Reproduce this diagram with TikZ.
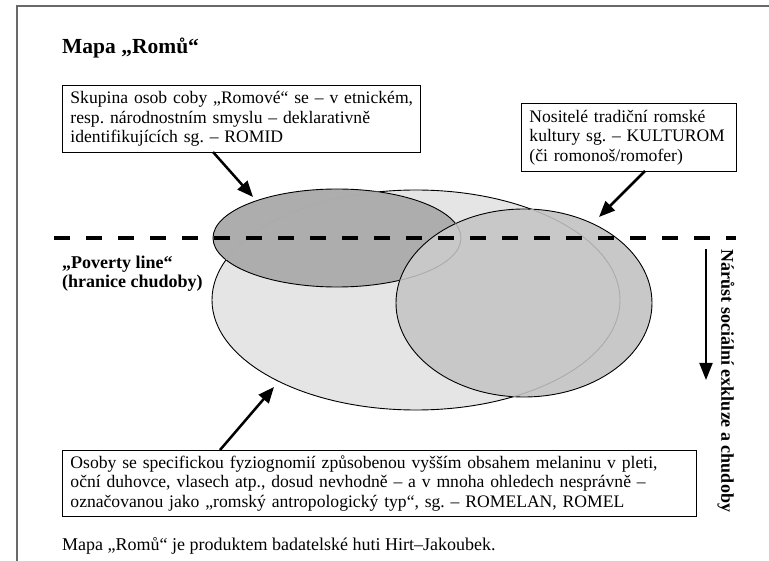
\documentclass[tikz,border=0pt]{standalone}
\usepackage{fontspec}
\setmainfont{Liberation Serif}
\usetikzlibrary{arrows.meta}
\definecolor{lightE}{RGB}{229,229,229}
\definecolor{darkE}{RGB}{173,173,173}
\definecolor{midE}{RGB}{200,200,200}
\definecolor{framegray}{RGB}{105,105,105}
\newcommand{\boxline}[1]{\mbox{#1}}
\begin{document}
\frenchspacing
\begin{tikzpicture}[x=1pt,y=-1pt,
  textbox/.style={draw, line width=0.9pt, anchor=north west, align=left,
    inner xsep=8pt, inner ysep=0pt, font=\fontsize{17.6}{19.5}\selectfont},
  plain/.style={anchor=base west, inner sep=0pt, font=\fontsize{18}{20}\selectfont},
  boldlabel/.style={anchor=base west, inner sep=0pt, font=\bfseries\fontsize{18}{20}\selectfont},
  outline/.style={draw=black, line width=0.9pt},
  faint/.style={draw=black!33, line width=0.9pt},
  bigarrow/.style={line width=2.5pt, -{Triangle[length=16pt,width=13pt]}},
  povline/.style={line width=4pt, dash pattern=on 16pt off 16pt}]
\useasboundingbox (0,0) rectangle (769,561);
\fill[white] (0,0) rectangle (769,561);
% frame
\draw[framegray, line width=1.5pt] (17,561) -- (17,6) -- (769,6);
% title
\node[anchor=base west, inner sep=0pt, font=\bfseries\fontsize{21.5}{24}\selectfont] (title) at (62,54) {Mapa „Romů“};
% ellipses
\fill[lightE] (416,300) ellipse [x radius=204, y radius=110];
\draw[outline] (416,300) ellipse [x radius=204, y radius=110];
\fill[darkE] (337,238) ellipse [x radius=124, y radius=49];
\draw[outline] (337,238) ellipse [x radius=124, y radius=49];
\fill[midE] (524,303) ellipse [x radius=128, y radius=94];
\draw[outline] (524,303) ellipse [x radius=128, y radius=94];
\begin{scope}
  \clip (337,238) ellipse [x radius=124, y radius=49];
  \draw[faint] (416,300) ellipse [x radius=204, y radius=110];
\end{scope}
\begin{scope}
  \clip (524,303) ellipse [x radius=128, y radius=94];
  \draw[faint] (416,300) ellipse [x radius=204, y radius=110];
  \draw[faint] (337,238) ellipse [x radius=124, y radius=49];
\end{scope}
% poverty line
\coordinate (povL) at (54,238);
\coordinate (povR) at (736,238);
\draw[povline] (povL) -- (povR);
\node[boldlabel] (pov1) at (62,269) {„Poverty line“};
\node[boldlabel] (pov2) at (62,288) {(hranice chudoby)};
% boxes
\node[textbox, text width=342pt, minimum height=67pt] (romid) at (62,85)
  {\boxline{Skupina osob coby „Romové“ se – v etnickém,}\\\boxline{resp. národnostním smyslu – deklarativně}\\\boxline{identifikujících sg. – ROMID}};
\node[textbox, text width=199pt, minimum height=68pt] (kult) at (521,103)
  {\boxline{Nositelé tradiční romské}\\\boxline{kultury sg. – KULTUROM}\\\boxline{(či romonoš/romofer)}};
\node[textbox, text width=618pt, minimum height=66pt] (romel) at (62,450)
  {\boxline{Osoby se specifickou fyziognomií způsobenou vyšším obsahem melaninu v pleti,}\\\boxline{oční duhovce, vlasech atp., dosud nevhodně – a v mnoha ohledech nesprávně –}\\\boxline{označovanou jako „romský antropologický typ“, sg. – ROMELAN, ROMEL}};
% arrows
\coordinate (a1s) at (213,152);
\coordinate (a1e) at (253,197);
\coordinate (a2s) at (645,171);
\coordinate (a2e) at (599,217);
\coordinate (a3s) at (220,450);
\coordinate (a3e) at (274,387);
\draw[bigarrow] (a1s) -- (a1e);
\draw[bigarrow] (a2s) -- (a2e);
\draw[bigarrow] (a3s) -- (a3e);
% exclusion arrow
\coordinate (vtop) at (706,249);
\coordinate (vbot) at (706,380);
\draw[line width=2pt, -{Triangle[length=17pt,width=13pt]}] (vtop) -- (vbot);
\node[rotate=-90, inner sep=0pt, font=\bfseries\fontsize{18}{20}\selectfont] (excl) at (726,381) {Nárůst sociální exkluze a chudoby};
% caption
\node[plain] (cap) at (62,550) {Mapa „Romů“ je produktem badatelské huti Hirt–Jakoubek.};
\end{tikzpicture}
\end{document}
